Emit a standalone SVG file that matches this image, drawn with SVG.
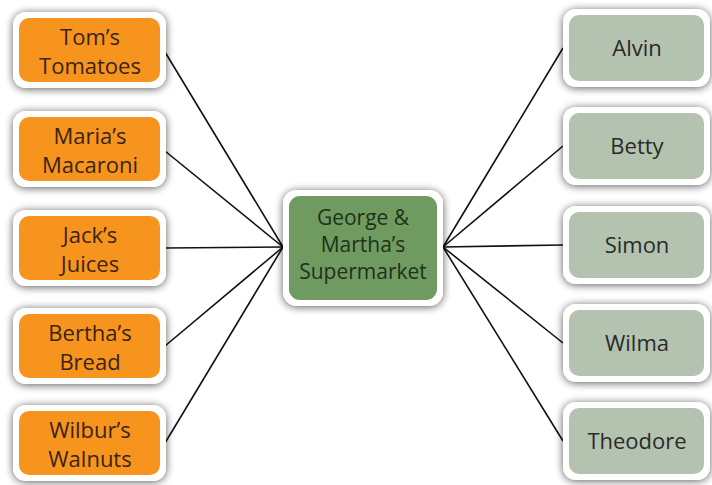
<svg xmlns="http://www.w3.org/2000/svg" width="712" height="485" viewBox="0 0 712 485">
<defs>
<filter id="sh" x="-20%" y="-30%" width="140%" height="160%">
<feGaussianBlur in="SourceAlpha" stdDeviation="4.5"/>
<feOffset dx="0" dy="1"/>
<feComponentTransfer><feFuncA type="linear" slope="0.65"/></feComponentTransfer>
<feMerge><feMergeNode/><feMergeNode in="SourceGraphic"/></feMerge>
</filter>
<style>
.outer{fill:#ffffff;filter:url(#sh)}
.org{fill:#f7941e}
.grn{fill:#b4c3b0}
.ctr{fill:#6f9a60}
text{font-family:"Open Sans","Noto Sans",sans-serif;font-size:22px;text-anchor:middle}
.to{fill:#3a2414}
.tg{fill:#2a2a2a}
.tc{fill:#1e3218;font-size:21px}
.ln{stroke:#111;stroke-width:1.6;fill:none}
</style>
</defs>
<rect width="712" height="485" fill="#ffffff"/>
<g id="connectors">
<line class="ln" x1="165" y1="52" x2="283" y2="247"/>
<line class="ln" x1="165" y1="151" x2="283" y2="247"/>
<line class="ln" x1="165" y1="248" x2="283" y2="247"/>
<line class="ln" x1="165" y1="346" x2="283" y2="247"/>
<line class="ln" x1="165" y1="443" x2="283" y2="247"/>
<line class="ln" x1="443" y1="247" x2="563" y2="48"/>
<line class="ln" x1="443" y1="247" x2="563" y2="146"/>
<line class="ln" x1="443" y1="247" x2="563" y2="245"/>
<line class="ln" x1="443" y1="247" x2="563" y2="343"/>
<line class="ln" x1="443" y1="247" x2="563" y2="441"/>
</g>
<g id="toms">
<rect class="outer" x="13" y="12" width="153" height="76" rx="13"/>
<rect class="org" x="19" y="18" width="141" height="64" rx="10"/>
<text class="to" x="90" y="45">Tom’s</text><text class="to" x="90" y="74">Tomatoes</text>
</g>
<g id="marias">
<rect class="outer" x="13" y="111" width="153" height="76" rx="13"/>
<rect class="org" x="19" y="117" width="141" height="64" rx="10"/>
<text class="to" x="90" y="144">Maria’s</text><text class="to" x="90" y="173">Macaroni</text>
</g>
<g id="jacks">
<rect class="outer" x="13" y="210" width="153" height="76" rx="13"/>
<rect class="org" x="19" y="216" width="141" height="64" rx="10"/>
<text class="to" x="90" y="243">Jack’s</text><text class="to" x="90" y="272">Juices</text>
</g>
<g id="berthas">
<rect class="outer" x="13" y="308" width="153" height="76" rx="13"/>
<rect class="org" x="19" y="314" width="141" height="64" rx="10"/>
<text class="to" x="90" y="341">Bertha’s</text><text class="to" x="90" y="370">Bread</text>
</g>
<g id="wilburs">
<rect class="outer" x="13" y="405" width="153" height="76" rx="13"/>
<rect class="org" x="19" y="411" width="141" height="64" rx="10"/>
<text class="to" x="90" y="438">Wilbur’s</text><text class="to" x="90" y="467">Walnuts</text>
</g>
<g id="center">
<rect class="outer" x="283" y="190" width="160" height="116" rx="14"/>
<rect class="ctr" x="289" y="196" width="148" height="104" rx="11"/>
<text class="tc" x="363" y="225">George &amp;</text>
<text class="tc" x="363" y="252">Martha’s</text>
<text class="tc" x="363" y="279">Supermarket</text>
</g>
<g id="alvin">
<rect class="outer" x="563" y="9" width="147" height="78" rx="13"/>
<rect class="grn" x="569" y="15" width="135" height="66" rx="10"/>
<text class="tg" x="637" y="56">Alvin</text>
</g>
<g id="betty">
<rect class="outer" x="563" y="107" width="147" height="78" rx="13"/>
<rect class="grn" x="569" y="113" width="135" height="66" rx="10"/>
<text class="tg" x="637" y="154">Betty</text>
</g>
<g id="simon">
<rect class="outer" x="563" y="206" width="147" height="78" rx="13"/>
<rect class="grn" x="569" y="212" width="135" height="66" rx="10"/>
<text class="tg" x="637" y="253">Simon</text>
</g>
<g id="wilma">
<rect class="outer" x="563" y="304" width="147" height="78" rx="13"/>
<rect class="grn" x="569" y="310" width="135" height="66" rx="10"/>
<text class="tg" x="637" y="351">Wilma</text>
</g>
<g id="theodore">
<rect class="outer" x="563" y="402" width="147" height="78" rx="13"/>
<rect class="grn" x="569" y="408" width="135" height="66" rx="10"/>
<text class="tg" x="637" y="449">Theodore</text>
</g>
</svg>
